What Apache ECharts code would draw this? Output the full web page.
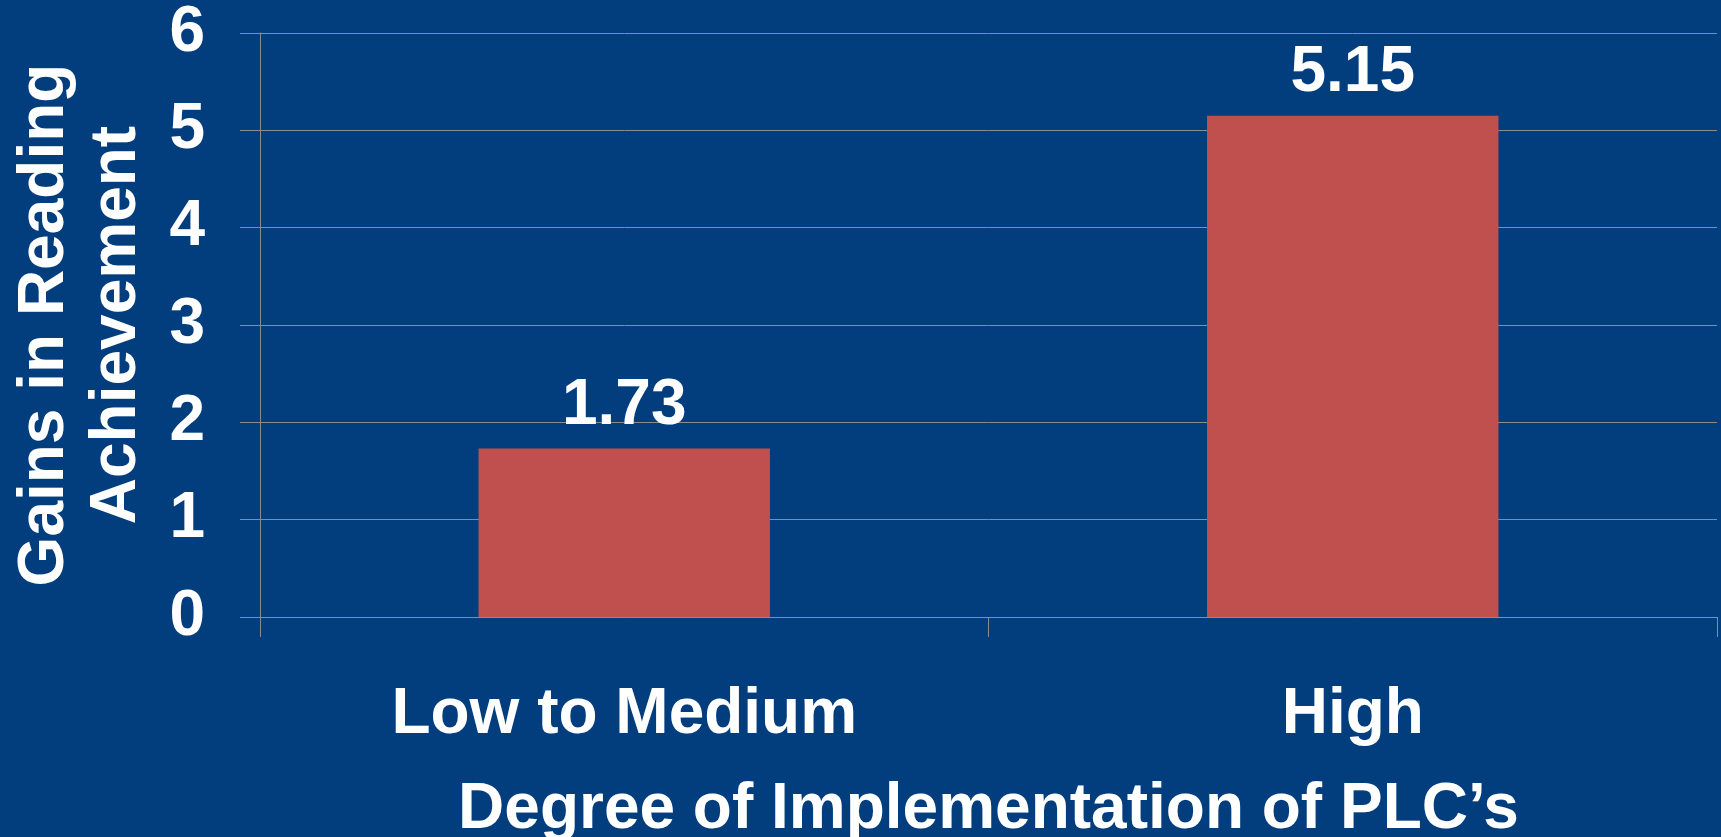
<!DOCTYPE html>
<html>
<head>
<meta charset="utf-8">
<script src="https://cdn.jsdelivr.net/npm/echarts@6/dist/echarts.min.js"></script>
<style>
html,body{margin:0;padding:0;background:#023E7D;}
#chart{width:1721px;height:837px;}
</style>
</head>
<body>
<div id="chart"></div>
<script>
const categories = ['Low to Medium', 'High'];
const gains = [1.73, 5.15];
const yTicks = [0, 1, 2, 3, 4, 5, 6];
const yAxisTitle = 'Gains in Reading\nAchievement';
const xAxisTitle = 'Degree of Implementation of PLC\u2019s';

const FONT = '"Liberation Sans", Arial, sans-serif';
const GRID_COLOR = '#8C8C8C';

const chart = echarts.init(document.getElementById('chart'), null, {renderer: 'canvas'});
chart.setOption({
  backgroundColor: '#023E7D',
  animation: false,
  grid: {left: 260, right: 4, top: 33, bottom: 220, containLabel: false, outerBoundsMode: 'none'},
  xAxis: {
    type: 'category',
    data: categories,
    boundaryGap: true,
    axisLine: {show: true, lineStyle: {color: GRID_COLOR, width: 1}},
    axisTick: {show: true, length: 20, lineStyle: {color: GRID_COLOR, width: 1}},
    axisLabel: {color: '#FFFFFF', fontFamily: FONT, fontWeight: 'bold', fontSize: 64, margin: 66},
    name: xAxisTitle,
    nameLocation: 'middle',
    nameGap: 161,
    nameTextStyle: {color: '#FFFFFF', fontFamily: FONT, fontWeight: 'bold', fontSize: 64}
  },
  yAxis: {
    type: 'value',
    min: yTicks[0],
    max: yTicks[yTicks.length - 1],
    interval: 1,
    axisLine: {show: true, lineStyle: {color: GRID_COLOR, width: 1}},
    axisTick: {show: true, length: 20, lineStyle: {color: GRID_COLOR, width: 1}},
    splitLine: {show: true, lineStyle: {color: GRID_COLOR, width: 1}},
    axisLabel: {color: '#FFFFFF', fontFamily: FONT, fontWeight: 'bold', fontSize: 64, margin: 55},
    name: yAxisTitle,
    nameLocation: 'middle',
    nameGap: 107,
    nameRotate: 90,
    nameTextStyle: {color: '#FFFFFF', fontFamily: FONT, fontWeight: 'bold', fontSize: 64, lineHeight: 72, align: 'center'}
  },
  series: [{
    type: 'bar',
    data: gains,
    barWidth: '40%',
    itemStyle: {color: '#C0504D'},
    label: {
      show: true,
      position: 'top',
      distance: 10,
      color: '#FFFFFF',
      fontFamily: FONT,
      fontWeight: 'bold',
      fontSize: 64,
      formatter: p => p.value.toFixed(2)
    }
  }]
});
</script>
</body>
</html>
